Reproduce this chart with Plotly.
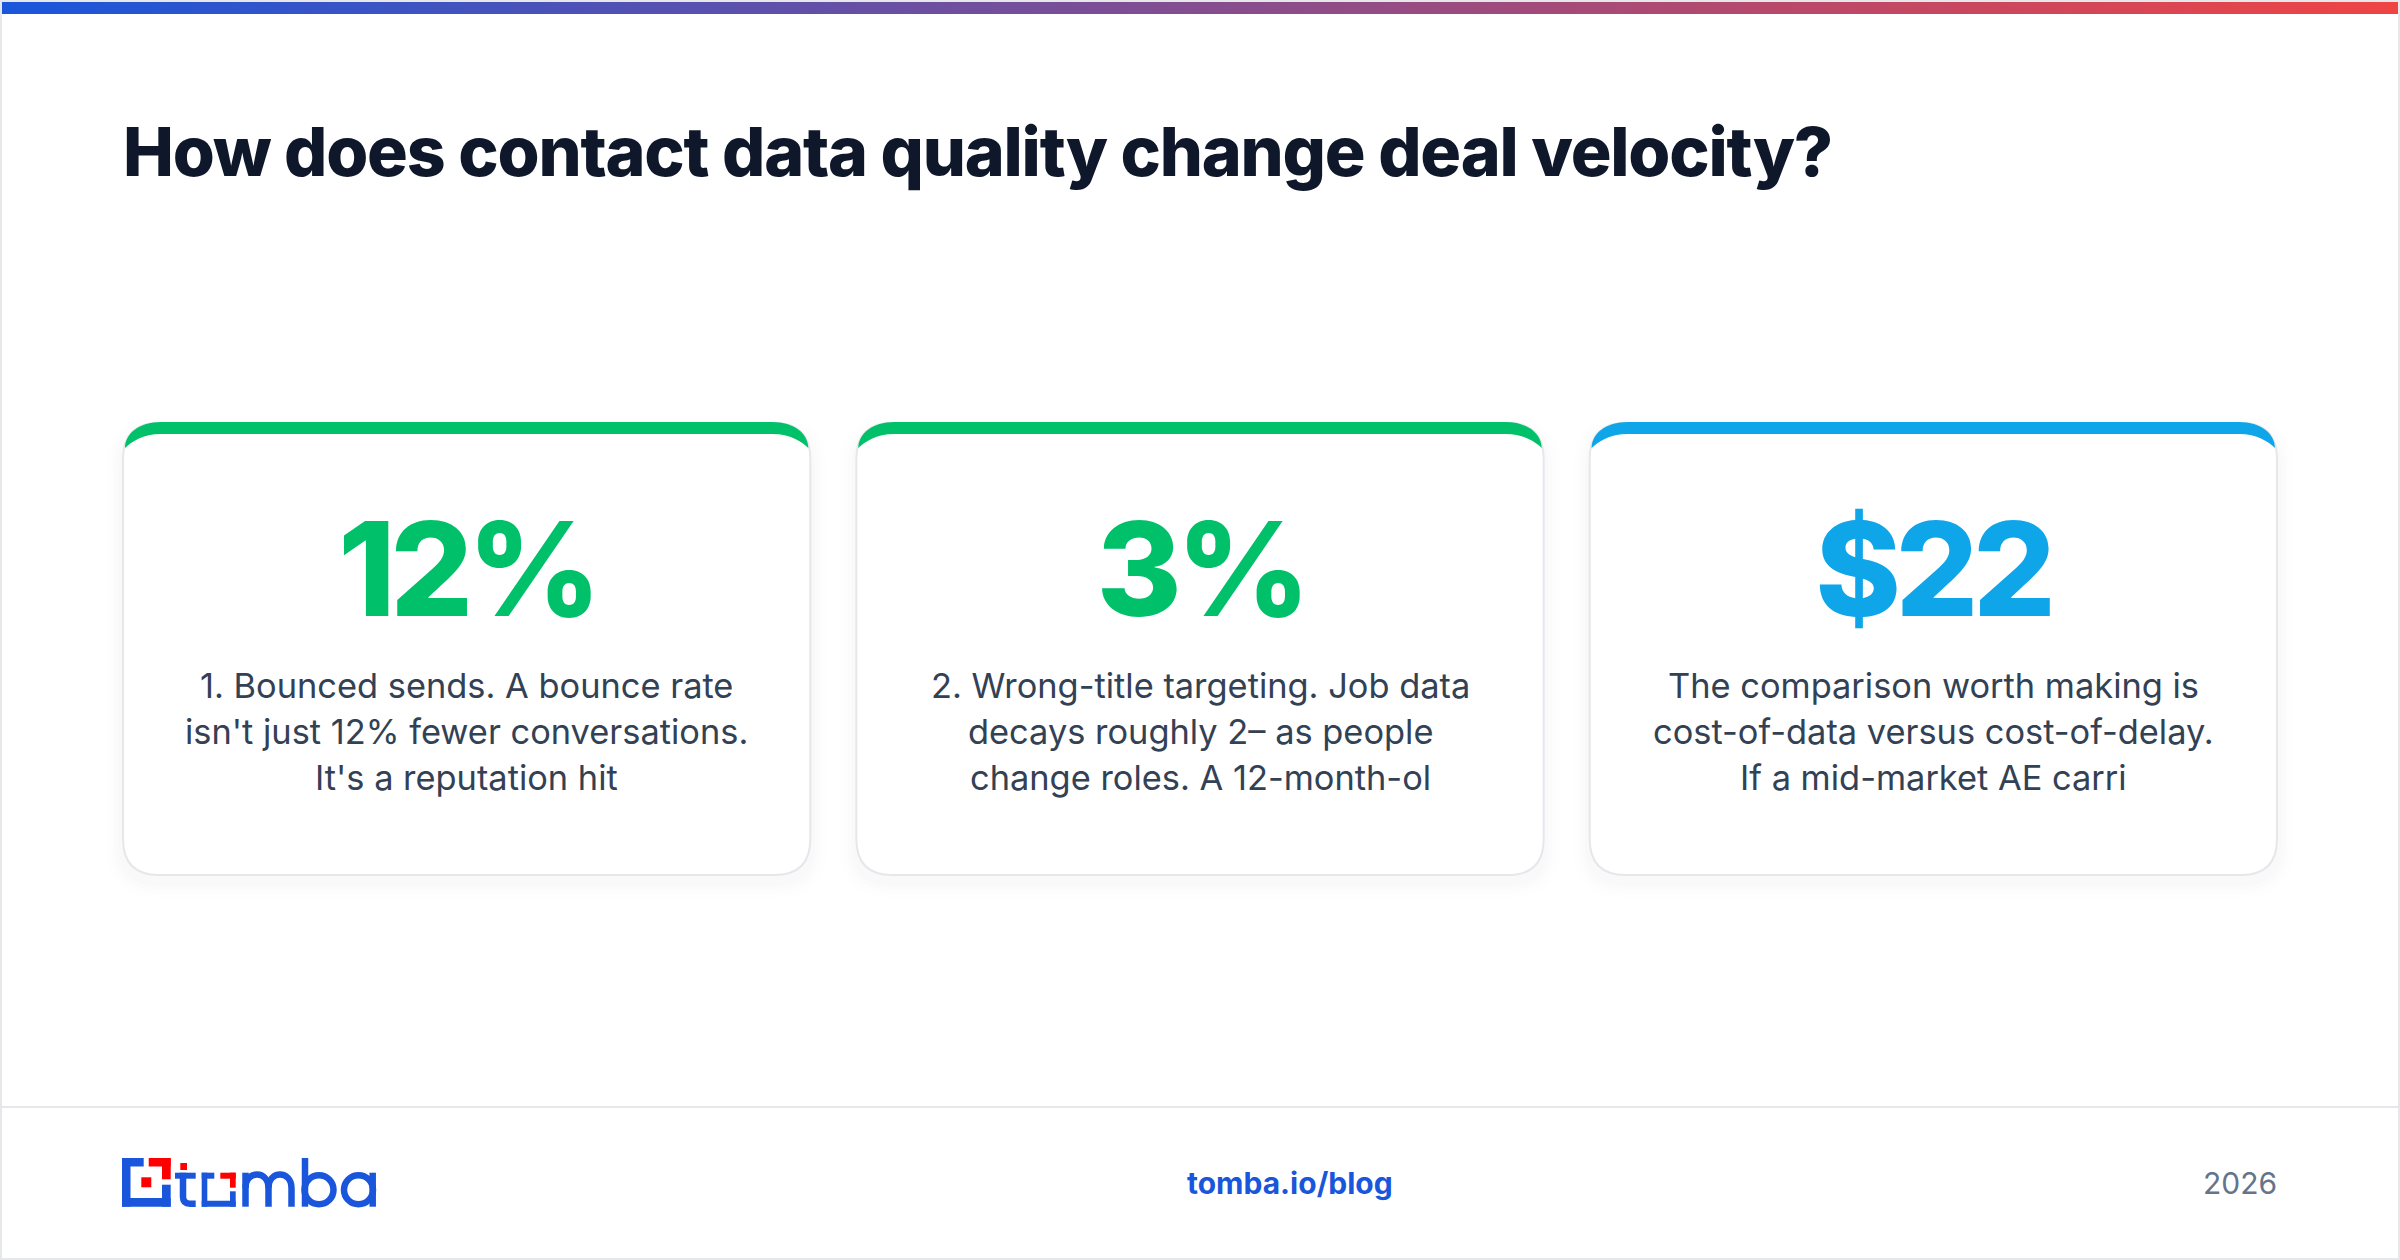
import plotly.graph_objects as go

# content
title = "How does contact data quality change deal velocity?"
stat_values = ["12%", "3%", "$22"]
stat_colors = ["#00c16a", "#00c16a", "#0ea5e9"]
card_lines = [
    ["1. Bounced sends. A bounce rate", "isn't just 12% fewer conversations.", "It's a reputation hit"],
    ["2. Wrong-title targeting. Job data", "decays roughly 2– as people", "change roles. A 12-month-ol"],
    ["The comparison worth making is", "cost-of-data versus cost-of-delay.", "If a mid-market AE carri"],
]
footer_link = "tomba.io/blog"
footer_year = "2026"

W = 2400
H = 1260
BLUE = "#1a56db"
RED = "#ff0000"
BORDER = "#e5e7eb"
FONT = "Inter"

card_left = [122, 855.33, 1588.67]
card_w = 689.33
card_top = 422
card_bottom = 876
radius = 36
bar_h = 12


def rounded(x0, y0, x1, y1, r):
    return (f"M{x0+r},{y0} L{x1-r},{y0} Q{x1},{y0} {x1},{y0+r} L{x1},{y1-r} Q{x1},{y1} {x1-r},{y1} "
            f"L{x0+r},{y1} Q{x0},{y1} {x0},{y1-r} L{x0},{y0+r} Q{x0},{y0} {x0+r},{y0} Z")


def crescent(x0, y0, x1, r, t):
    # css style top border on a rounded box
    return (f"M{x0},{y0+r-10} C{x0},{y0+12} {x0+14},{y0} {x0+r},{y0} L{x1-r},{y0} "
            f"C{x1-14},{y0} {x1},{y0+12} {x1},{y0+r-10} "
            f"C{x1-6},{y0+t+8} {x1-18},{y0+t} {x1-r},{y0+t} L{x0+r},{y0+t} "
            f"C{x0+18},{y0+t} {x0+6},{y0+t+8} {x0},{y0+r-10} Z")


def circle(cx, cy, r):
    k = r * 0.5523
    return (f"M{cx-r},{cy} C{cx-r},{cy-k} {cx-k},{cy-r} {cx},{cy-r} C{cx+k},{cy-r} {cx+r},{cy-k} {cx+r},{cy} "
            f"C{cx+r},{cy+k} {cx+k},{cy+r} {cx},{cy+r} C{cx-k},{cy+r} {cx-r},{cy+k} {cx-r},{cy} Z")


shapes = []
annotations = []


def rect(x0, y0, x1, y1, color):
    shapes.append(dict(type="rect", x0=x0, y0=y0, x1=x1, y1=y1, fillcolor=color, line_width=0, layer="below"))


def stroke(path, color=BLUE, width=6.5):
    shapes.append(dict(type="path", path=path, line=dict(color=color, width=width), layer="below"))


def label(x, y, text, size, color, weight=400, anchor="center", name=""):
    annotations.append(dict(x=x, y=y, text=text, xref="x", yref="y", showarrow=False, xanchor=anchor, yanchor="middle", name=name,
                            font=dict(family=FONT, size=size, color=color, weight=weight)))


# page frame
rect(0, 0, W, 2, BORDER)
rect(0, H - 2, W, H, BORDER)
rect(0, 0, 2, H, BORDER)
rect(W - 2, 0, W, H, BORDER)
rect(2, 1106, W - 2, 1108, BORDER)

# cards
for ith, left in enumerate(card_left):
    right = left + card_w
    for grow, alpha in [(16, 0.004), (12, 0.005), (8, 0.006), (4, 0.008)]:
        shapes.append(dict(type="path", path=rounded(left - grow, card_top - grow + 10, right + grow, card_bottom + grow + 6, radius + grow),
                           fillcolor=f"rgba(15,23,42,{alpha})", line_width=0, layer="below"))
    shapes.append(dict(type="path", path=rounded(left + 1, card_top + 1, right - 1, card_bottom - 1, radius), fillcolor="white",
                       line=dict(color=BORDER, width=2), layer="below"))
    shapes.append(dict(type="path", path=crescent(left + 3, card_top, right - 3, radius, bar_h), fillcolor=stat_colors[ith], line_width=0, layer="below"))
    label(left + card_w / 2, 568, stat_values[ith], 130, stat_colors[ith], 800)
    for ith_line, line in enumerate(card_lines[ith]):
        label(left + card_w / 2, 685 + ith_line * 46, line, 34.4, "#334155")

# logo icon
rect(122, 1158, 130.5, 1206.7, BLUE)
rect(122, 1158, 143.7, 1166.5, BLUE)
rect(122, 1198, 170.7, 1206.7, BLUE)
rect(162, 1184.7, 170.7, 1206.7, BLUE)
rect(148.7, 1158, 170.7, 1166.5, RED)
rect(162, 1158, 170.7, 1179.3, RED)
rect(141.3, 1177.3, 151.3, 1187.3, RED)
# t
rect(180.3, 1163, 187, 1170, RED)
rect(175, 1172.7, 195.7, 1178.7, BLUE)
stroke("M183,1172.7 L183,1197 Q183,1203.7 190,1203.7 L195.7,1203.7")
# square o
rect(201.7, 1172.7, 207.3, 1206.7, BLUE)
rect(201.7, 1172.7, 214.3, 1178.7, BLUE)
rect(201.7, 1200.7, 235.7, 1206.7, BLUE)
rect(230, 1191.3, 235.7, 1206.7, BLUE)
rect(220.3, 1172.7, 235.7, 1178.7, RED)
rect(230, 1172.7, 235.7, 1187.7, RED)
# m
stroke("M245.5,1206.7 L245.5,1172.7")
stroke("M245.5,1188 C245.5,1170 268.5,1170 268.5,1188 L268.5,1206.7")
stroke("M268.5,1188 C268.5,1170 291.5,1170 291.5,1188 L291.5,1206.7")
# b
stroke("M305,1158 L305,1206.7")
stroke(circle(319, 1189.7, 14.5))
# a
stroke(circle(358.5, 1189.7, 14.5))
stroke("M372.7,1172.7 L372.7,1206.7")

# title and footer
label(122, 151, title, 68, "#0f172a", 800, "left", name="title")
label(1289.5, 1183, footer_link, 30, BLUE, 700)
label(2279, 1183, footer_year, 30, "#64748b", 400, "right")

fig = go.Figure()
# gradient strip at the top
fig.add_trace(go.Scatter(x=[2, W - 2, W - 2, 2, 2], y=[2, 2, 14, 14, 2], mode="lines", line_width=0, fill="toself", hoverinfo="skip",
                         fillgradient=dict(type="horizontal", colorscale=[[0, BLUE], [1, "#ef4444"]])))
fig.update_layout(width=W, height=H, margin=dict(l=0, r=0, t=0, b=0), showlegend=False, paper_bgcolor="white", plot_bgcolor="white",
                  xaxis=dict(range=[0, W], visible=False, fixedrange=True),
                  yaxis=dict(range=[H, 0], visible=False, fixedrange=True),
                  shapes=shapes, annotations=annotations)

# page margin off, tighter tracking on the big headings
post_script = """
document.body.style.margin = '0';
document.querySelectorAll('.annotation-text').forEach(function (t) {
    var size = parseFloat(t.style.fontSize);
    if (size > 100) { t.style.letterSpacing = '-5.5px'; }
    else if (size > 60) {
        t.style.letterSpacing = '-1.2px';
        t.setAttribute('transform', 'translate(-31.5,0)');
    }
});
"""
fig.write_html("out.html", config=dict(displayModeBar=False), post_script=post_script)
